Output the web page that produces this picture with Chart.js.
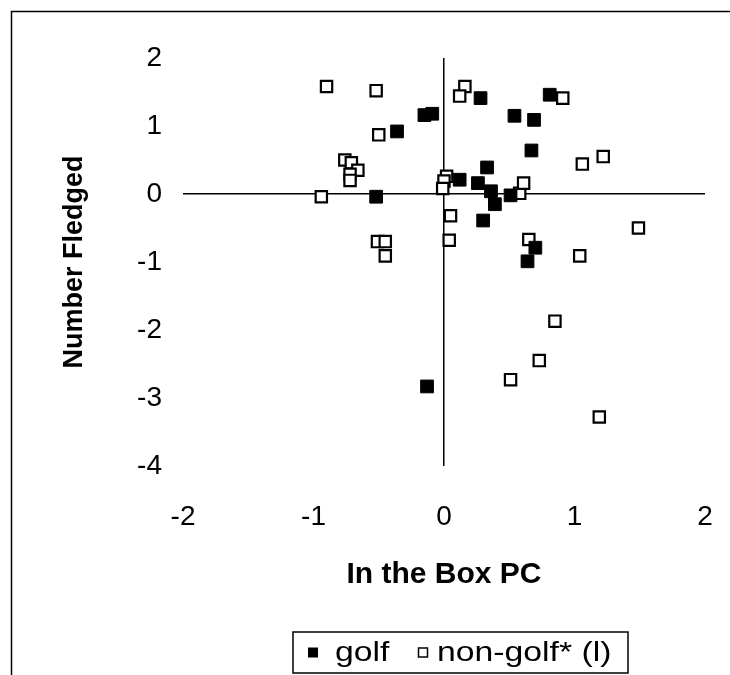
<!DOCTYPE html>
<html>
<head>
<meta charset="utf-8">
<script src="https://cdn.jsdelivr.net/npm/chart.js@4"></script>
<style>
  html, body { margin: 0; padding: 0; background: #fff; }
  #wrap { width: 730px; height: 675px; }
</style>
</head>
<body>
<div id="wrap"><canvas id="scatter" width="730" height="675"></canvas></div>
<script>
// 軸ラベル・目盛り
const xTitle = 'In the Box PC';
const yTitle = 'Number Fledged';
const xTicks = [-2, -1, 0, 1, 2];
const yTicks = [-4, -3, -2, -1, 0, 1, 2];
const seriesNames = ['golf', 'non-golf* (l)'];

// golf（黒塗り）
const golfX = [0.28, -0.15, -0.09, -0.36, -0.52, 0.12, 0.33, 0.26, 0.36, 0.39,
  0.30, 0.81, 0.54, 0.69, 0.67, 0.51, 0.70, 0.64, -0.13];
const golfY = [1.41, 1.16, 1.18, 0.92, -0.04, 0.21, 0.39, 0.16, 0.04, -0.15,
  -0.39, 1.46, 1.15, 1.09, 0.64, -0.02, -0.79, -0.99, -2.83];

// non-golf（白抜き）
const nonGolfX = [-0.90, -0.52, 0.16, 0.12, -0.50, -0.76, -0.71, -0.66, -0.72, -0.72,
  -0.94, 0.02, 0.00, -0.01, 0.05, 0.91, 1.06, 1.22, 0.58, 0.61,
  0.65, 1.04, 1.49, 0.04, -0.51, -0.45, -0.45, 0.85, 0.73, 0.51, 1.19];
const nonGolfY = [1.58, 1.52, 1.58, 1.44, 0.87, 0.50, 0.46, 0.35, 0.29, 0.20,
  -0.04, 0.26, 0.19, 0.08, -0.32, 1.41, 0.44, 0.55, 0.01, 0.16,
  -0.67, -0.91, -0.50, -0.68, -0.70, -0.70, -0.91, -1.87, -2.45, -2.73, -3.28];

const toPoints = (xs, ys) => xs.map((x, i) => ({ x: x, y: ys[i] }));

const FONT = 'Liberation Sans, Arial, sans-serif';

// 枠線と凡例を自前で描く
const framePlugin = {
  id: 'frame',
  afterDraw(chart) {
    const c = chart.ctx;
    c.save();
    c.strokeStyle = '#000';
    c.lineWidth = 1.5;
    c.beginPath();
    c.moveTo(11.5, 675);
    c.lineTo(11.5, 11.5);
    c.lineTo(730, 11.5);
    c.stroke();

    // 凡例
    const box = { left: 293, top: 632, right: 628, bottom: 673 };
    c.lineWidth = 1.5;
    c.strokeRect(box.left, box.top, box.right - box.left, box.bottom - box.top);
    const cy = (box.top + box.bottom) / 2;
    c.fillStyle = '#000';
    c.fillRect(308, cy - 5, 10, 10);
    c.lineWidth = 1.5;
    c.strokeRect(418.5, cy - 4.5, 9, 9);
    // 元図は横長の字なので横方向に少し伸ばす
    c.font = '27px ' + FONT;
    c.textBaseline = 'middle';
    c.textAlign = 'left';
    c.save();
    c.translate(335, cy + 1);
    c.scale(1.25, 1);
    c.fillText(seriesNames[0], 0, 0);
    c.restore();
    c.save();
    c.translate(437, cy + 1);
    c.scale(1.25, 1);
    c.fillText(seriesNames[1], 0, 0);
    c.restore();
    c.restore();
  }
};

const zeroLine = (ctx) => (ctx.tick && ctx.tick.value === 0 ? '#000' : 'rgba(0,0,0,0)');

document.addEventListener('DOMContentLoaded', () => {
  const ctx = document.getElementById('scatter');
  new Chart(ctx, {
    type: 'scatter',
    data: {
      datasets: [{
        label: seriesNames[0],
        data: toPoints(golfX, golfY),
        pointStyle: 'rect',
        pointRadius: 9,
        backgroundColor: '#000',
        borderColor: '#000',
        borderWidth: 1,
      }, {
        label: seriesNames[1],
        data: toPoints(nonGolfX, nonGolfY),
        pointStyle: 'rect',
        pointRadius: 8,
        backgroundColor: '#fff',
        borderColor: '#000',
        borderWidth: 2.2,
      }],
    },
    options: {
      responsive: false,
      animation: false,
      layout: { padding: { left: 12, top: 58, right: 25, bottom: 81 } },
      plugins: {
        legend: { display: false },
        tooltip: { enabled: false },
      },
      scales: {
        x: {
          type: 'linear',
          min: xTicks[0],
          max: xTicks[xTicks.length - 1],
          afterBuildTicks: (s) => { s.ticks = xTicks.map(v => ({ value: v })); },
          afterFit: (s) => {
            s.height = 128;
            // 目盛りのpaddingが左右の余白に加算されるのを打ち消す
            s.paddingLeft = 10;
            s.paddingRight = 10;
          },
          border: { display: false },
          grid: { color: zeroLine, lineWidth: 1.5, drawTicks: false },
          ticks: { color: '#000', padding: 34, font: { family: FONT, size: 28 } },
          title: {
            display: true, text: xTitle, color: '#000',
            padding: { top: 0, bottom: 1 },
            font: { family: FONT, size: 30, weight: 'bold' },
          },
        },
        y: {
          type: 'linear',
          min: yTicks[0],
          max: yTicks[yTicks.length - 1],
          afterBuildTicks: (s) => { s.ticks = yTicks.map(v => ({ value: v })); },
          afterFit: (s) => { s.width = 171; },
          border: { display: false },
          grid: { color: zeroLine, lineWidth: 1.5, drawTicks: false },
          ticks: { color: '#000', padding: 21, font: { family: FONT, size: 28 } },
          title: {
            display: true, text: yTitle, color: '#000',
            padding: { top: 46, bottom: 0 },
            font: { family: FONT, size: 27, weight: 'bold' },
          },
        },
      },
    },
    plugins: [framePlugin],
  });
});
</script>
</body>
</html>
